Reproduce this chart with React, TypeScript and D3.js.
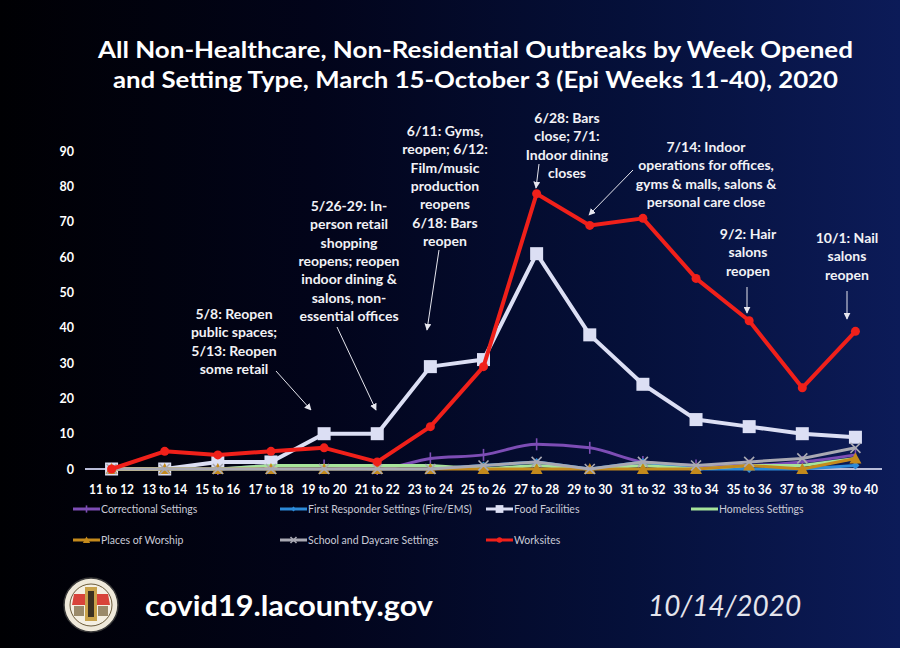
import React, { useEffect } from 'react';
import * as d3 from 'd3';

const categories = ["11 to 12","13 to 14","15 to 16","17 to 18","19 to 20","21 to 22","23 to 24","25 to 26","27 to 28","29 to 30","31 to 32","33 to 34","35 to 36","37 to 38","39 to 40"];
const correctional = [0,0,0,1,1,0,3,4,7,6,2,1,1,2,4];
const firstResponder = [0,0,0,0,0,0,0,1,2,0,2,0,0,0,1];
const foodFacilities = [0,0,2,2,10,10,29,31,61,38,24,14,12,10,9];
const homeless = [0,0,0,1,1,1,1,0,1,0,1,0,1,1,3];
const worship = [0,0,0,0,0,0,0,0,0,0,0,0,1,0,3];
const school = [0,0,0,0,0,0,0,1,2,0,2,1,2,3,6];
const worksites = [0,5,4,5,6,2,12,29,78,69,71,54,42,23,39];
const yTicks = [0,10,20,30,40,50,60,70,80,90];
const titleLines = ["All Non-Healthcare, Non-Residential Outbreaks by Week Opened","and Setting Type, March 15-October 3 (Epi Weeks 11-40), 2020"];

const annotations = [
  { lines: ["5/8: Reopen","public spaces;","5/13: Reopen","some retail"], cx: 234, y0: 314, from: [276, 371], to: [311, 410] },
  { lines: ["5/26-29: In-","person retail","shopping","reopens; reopen","indoor dining &","salons, non-","essential offices"], cx: 349, y0: 206, from: [337, 327], to: [376, 410] },
  { lines: ["6/11: Gyms,","reopen; 6/12:","Film/music","production","reopens","6/18: Bars","reopen"], cx: 445, y0: 131, from: [439, 250], to: [427, 330] },
  { lines: ["6/28: Bars","close; 7/1:","Indoor dining","closes"], cx: 567, y0: 118, from: [539, 164], to: [536, 188] },
  { lines: ["7/14: Indoor","operations for offices,","gyms & malls, salons &","personal care close"], cx: 706, y0: 147, from: [633, 170], to: [589, 215] },
  { lines: ["9/2: Hair","salons","reopen"], cx: 748, y0: 234, from: [747, 287], to: [747, 313] },
  { lines: ["10/1: Nail","salons","reopen"], cx: 847, y0: 238, from: [847, 291], to: [847, 319] },
];

const W = 900, H = 648;
const x = d3.scalePoint<string>().domain(categories).range([85, 882]).padding(0.5);
const y = d3.scaleLinear().domain([0, 90]).range([469, 151.3]);

type S = { name: string; values: number[]; color: string; width: number; marker: string; smooth?: boolean };
const series: S[] = [
  { name: "Correctional Settings", values: correctional, color: "#7d4db5", width: 3, marker: "dash", smooth: true },
  { name: "First Responder Settings (Fire/EMS)", values: firstResponder, color: "#2c8ad8", width: 3, marker: "diamond" },
  { name: "Food Facilities", values: foodFacilities, color: "#dcdff4", width: 4, marker: "square" },
  { name: "Homeless Settings", values: homeless, color: "#a6e49a", width: 3, marker: "none" },
  { name: "Places of Worship", values: worship, color: "#c48a1c", width: 3, marker: "triangle" },
  { name: "School and Daycare Settings", values: school, color: "#a9a9b3", width: 3, marker: "x" },
  { name: "Worksites", values: worksites, color: "#f0201a", width: 4, marker: "circle" },
];

function Marker({ type, cx, cy, color, scale = 1 }: { type: string; cx: number; cy: number; color: string; scale?: number }) {
  const s = scale;
  switch (type) {
    case "square":
      return <rect x={cx - 6.5 * s} y={cy - 6.5 * s} width={13 * s} height={13 * s} fill={color} />;
    case "circle":
      return <circle cx={cx} cy={cy} r={4.5 * s} fill={color} />;
    case "triangle":
      return <path d={`M${cx},${cy - 6 * s}L${cx + 6 * s},${cy + 5 * s}L${cx - 6 * s},${cy + 5 * s}Z`} fill={color} />;
    case "x":
      return <path d={`M${cx - 5 * s},${cy - 5 * s}L${cx + 5 * s},${cy + 5 * s}M${cx + 5 * s},${cy - 5 * s}L${cx - 5 * s},${cy + 5 * s}`} stroke={color} strokeWidth={1.6} />;
    case "dash":
      return <path d={`M${cx},${cy - 6 * s}L${cx},${cy + 6 * s}`} stroke={color} strokeWidth={1.6} />;
    case "diamond":
      return <path d={`M${cx},${cy - 4 * s}L${cx + 4 * s},${cy}L${cx},${cy + 4 * s}L${cx - 4 * s},${cy}Z`} fill={color} />;
    default:
      return null;
  }
}

const legendPos = [
  [73, 509], [280, 509], [486, 509], [691, 509],
  [73, 540], [280, 540], [486, 540],
];

export default function App() {
  useEffect(() => {
    document.body.style.margin = "0";
    document.body.style.background = "#000";
  }, []);
  const font = "Lato, 'Open Sans', sans-serif";
  return (
    <svg width={W} height={H} viewBox={`0 0 ${W} ${H}`} style={{ display: "block" }}>
      <defs>
        <linearGradient id="bg" x1="0" y1="0" x2="1" y2="0">
          <stop offset="0" stopColor="#000003" />
          <stop offset="0.35" stopColor="#02041a" />
          <stop offset="0.7" stopColor="#05103a" />
          <stop offset="1" stopColor="#0c1b58" />
        </linearGradient>
        <marker id="arr" viewBox="0 0 10 10" refX="9" refY="5" markerWidth="7" markerHeight="7" orient="auto">
          <path d="M0,0L10,5L0,10Z" fill="#e6e6ee" />
        </marker>
      </defs>
      <rect x={0} y={0} width={W} height={H} fill="url(#bg)" />

      {titleLines.map((t, i) => (
        <text key={i} x={475.5} y={58 + i * 30} textAnchor="middle" fill="#ffffff" fontFamily={font} fontWeight={700} fontSize={23}
          textLength={i === 0 ? 755 : 725} lengthAdjust="spacingAndGlyphs">{t}</text>
      ))}

      {yTicks.map((t) => (
        <text key={t} x={74} y={y(t) + 4.5} textAnchor="end" fill="#ffffff" fontFamily={font} fontWeight={700} fontSize={12.5}>{t}</text>
      ))}

      <line x1={85} x2={882} y1={y(0)} y2={y(0)} stroke="#b8bcd8" strokeWidth={2} />

      {categories.map((c) => (
        <text key={c} x={x(c)} y={494} textAnchor="middle" fill="#ffffff" fontFamily={font} fontWeight={700} fontSize={14}
          textLength={45} lengthAdjust="spacingAndGlyphs">{c}</text>
      ))}

      {series.map((s) => {
        const line = d3.line<number>()
          .x((_, i) => x(categories[i]) as number)
          .y((v) => y(v))
          .curve(s.smooth ? d3.curveMonotoneX : d3.curveLinear);
        return (
          <g key={s.name}>
            <path d={line(s.values) || ""} fill="none" stroke={s.color} strokeWidth={s.width} strokeLinejoin="round" />
            {s.values.map((v, i) => (
              <Marker key={i} type={s.marker} cx={x(categories[i]) as number} cy={y(v)} color={s.color} />
            ))}
          </g>
        );
      })}

      {series.map((s, i) => {
        const [lx, ly] = legendPos[i];
        return (
          <g key={s.name}>
            <line x1={lx} x2={lx + 27} y1={ly} y2={ly} stroke={s.color} strokeWidth={3} />
            <Marker type={s.marker} cx={lx + 13.5} cy={ly} color={s.color} scale={0.6} />
            <text x={lx + 28} y={ly + 3.8} fill="#c9cad6" fontFamily={font} fontSize={10.5}>{s.name}</text>
          </g>
        );
      })}

      {annotations.map((a, k) => (
        <g key={k}>
          {a.lines.map((l, i) => (
            <text key={i} x={a.cx} y={a.y0 + 5 + i * 18.3} textAnchor="middle" fill="#f2f2f6" fontFamily={font} fontWeight={700} fontSize={14}>{l}</text>
          ))}
          <line x1={a.from[0]} y1={a.from[1]} x2={a.to[0]} y2={a.to[1]} stroke="#e6e6ee" strokeWidth={1} markerEnd="url(#arr)" />
        </g>
      ))}

      <g transform="translate(91,605)">
        <circle r={27} fill="#efe9da" stroke="#3a3a3a" strokeWidth={1.5} />
        <circle r={21} fill="#f4efe2" stroke="#6a5a3a" strokeWidth={1} />
        <path d="M-17,-11 L-6,-11 L-6,0 L-19,0 Z" fill="#d8433a" />
        <path d="M6,-11 L17,-11 L19,0 L6,0 Z" fill="#d8433a" />
        <rect x={-6} y={-18} width={12} height={34} fill="#c9a24a" />
        <rect x={-3} y={-14} width={6} height={26} fill="#3a3020" />
        <rect x={-17} y={1} width={10} height={10} fill="#9a8a6a" />
        <rect x={7} y={1} width={10} height={10} fill="#9a8a6a" />
      </g>
      <text x={145} y={616} fill="#ffffff" fontFamily={font} fontWeight={700} fontSize={28} textLength={288} lengthAdjust="spacingAndGlyphs">covid19.lacounty.gov</text>
      <text x={648} y={616} fill="#e4e4ec" fontFamily={font} fontStyle="italic" fontSize={28}>10/14/2020</text>
    </svg>
  );
}
